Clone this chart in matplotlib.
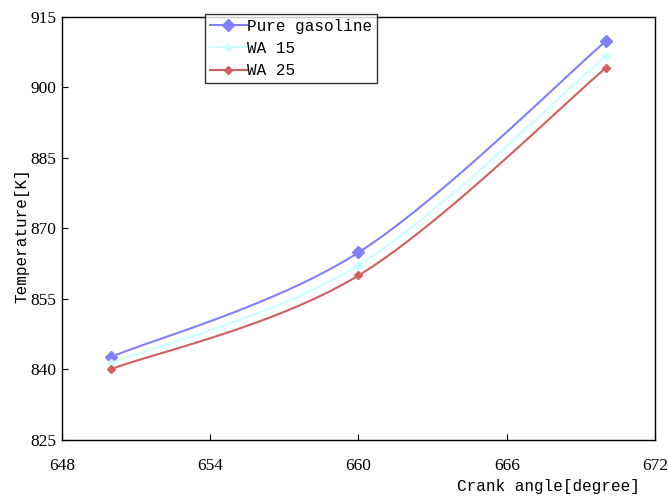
import numpy as np
import matplotlib.pyplot as plt

# data
crank = [650, 660, 670]
pure_gasoline = [842.7, 864.9, 909.8]
wa15 = [841.4, 862.2, 906.7]
wa25 = [840.1, 860.0, 904.1]

x_ticks = [648, 654, 660, 666, 672]
y_ticks = [825, 840, 855, 870, 885, 900, 915]


def smooth(xs, ys, n=40):
    # Catmull-Rom through the points, like a spreadsheet "smoothed line"
    p = np.column_stack([xs, ys]).astype(float)
    p = np.vstack([p[0], p, p[-1]])
    out = []
    for i in range(1, len(p) - 2):
        p0, p1, p2, p3 = p[i - 1], p[i], p[i + 1], p[i + 2]
        t = np.linspace(0, 1, n)[:, None]
        c1 = p1 + (p2 - p0) / 6
        c2 = p2 - (p3 - p1) / 6
        seg = ((1 - t) ** 3 * p1 + 3 * (1 - t) ** 2 * t * c1
               + 3 * (1 - t) * t ** 2 * c2 + t ** 3 * p2)
        out.append(seg)
    s = np.vstack(out)
    return s[:, 0], s[:, 1]


fig = plt.figure(figsize=(6.68, 4.98), dpi=100)
ax = fig.add_axes([0.0928, 0.1165, 0.8877, 0.8494])

series = [
    ("Pure gasoline", pure_gasoline, "#8080FF", 6.5),
    ("WA 15", wa15, "#CCFFFF", 4.5),
    ("WA 25", wa25, "#D06060", 4.5),
]
for name, vals, col, ms in series:
    sx, sy = smooth(crank, vals)
    ax.plot(sx, sy, color=col, lw=1.5)
    ax.plot(crank, vals, ls="none", marker="D", ms=ms, color=col)
    ax.plot([], [], color=col, lw=1.5, marker="D", ms=ms, label=name)

ax.set_xlim(648, 672)
ax.set_ylim(825, 915)
ax.set_xticks(x_ticks)
ax.set_yticks(y_ticks)
ax.tick_params(direction="in", length=4, width=0.8, labelsize=12.5)
ax.tick_params(axis="x", pad=13)
ax.tick_params(axis="y", pad=4)
for lab in ax.get_xticklabels() + ax.get_yticklabels():
    lab.set_fontfamily("Liberation Serif")
for sp in ax.spines.values():
    sp.set_linewidth(1.0)

fig.text(0.958, 0.008, "Crank angle[degree]", ha="right", va="bottom",
         fontsize=11.5, family="Liberation Mono")
fig.text(0.033, 0.526, "Temperature[K]", rotation=90, ha="center", va="center",
         fontsize=11.5, family="Liberation Mono")

leg = fig.legend(loc="upper left", bbox_to_anchor=(0.307, 0.972),
                 prop={"family": "Liberation Mono", "size": 11.5},
                 frameon=True, fancybox=False, edgecolor="black",
                 handlelength=2.3, handletextpad=0.05, borderpad=0.3,
                 labelspacing=0.45, borderaxespad=0)
leg.get_frame().set_linewidth(1.0)

fig.savefig("out.png", dpi=100)
